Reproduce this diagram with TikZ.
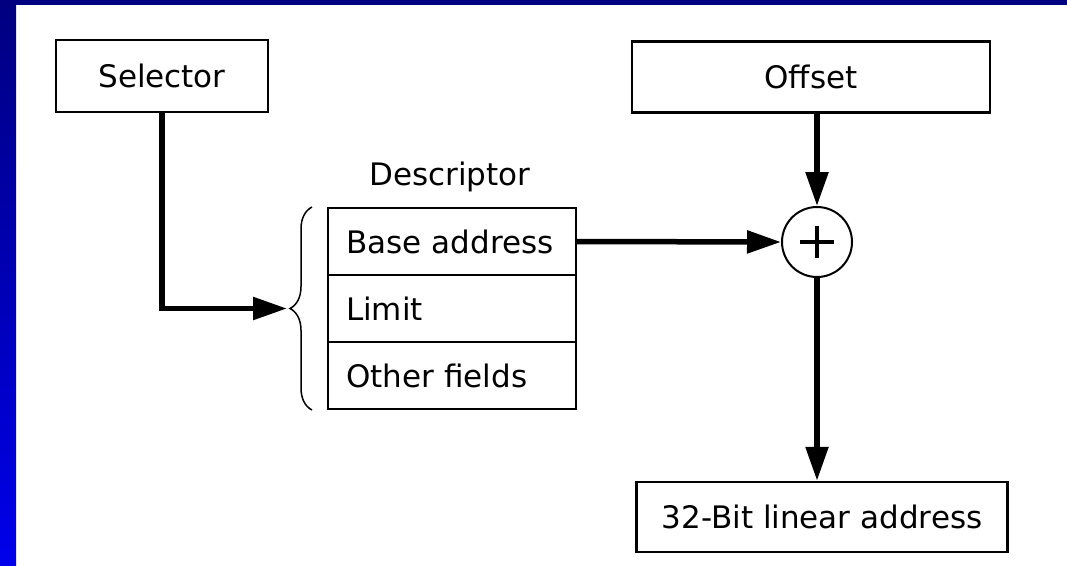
\documentclass[tikz,border=0pt]{standalone}
\usepackage{fontspec}
\setmainfont{DejaVu Sans}
\usetikzlibrary{arrows.meta, decorations.pathreplacing}
\definecolor{bandtop}{RGB}{0,0,128}
\definecolor{bandlow}{RGB}{0,0,235}
\begin{document}
\begin{tikzpicture}[x=1pt, y=-1pt, font=\fontsize{31}{36}\selectfont,
    box/.style={draw, line width=2.5pt, inner sep=0pt},
    field/.style={draw, line width=2pt, anchor=north west, minimum width=248pt,
        minimum height=67pt, inner xsep=18pt, text width=212pt, align=left},
    conn/.style={line width=5.5pt, -{Triangle[length=34pt, width=22pt]}}]
    \useasboundingbox (0, 0) rectangle (1067, 565);
    \fill[white] (0, 0) rectangle (1067, 565);
    \shade[top color=bandtop, bottom color=bandlow] (0, 0) rectangle (16, 565);
    \fill[bandtop] (0, 0) rectangle (1067, 5);

    \node[box, minimum width=212pt, minimum height=72pt] (selector) at (162, 76) {Selector};
    \node[box, minimum width=358pt, minimum height=71pt] (offset) at (811, 77) {Offset};
    \node[box, minimum width=371pt, minimum height=70pt] (linear) at (822, 517) {32-Bit linear address};

    \node (desclabel) at (450, 177) {Descriptor};
    \foreach \name/\txt [count=\i from 0] in {base/Base address, limit/Limit, other/Other fields} {
        \node[field] (\name) at (327, 207 + 67*\i) {\txt};
    }
    \draw[line width=1.5pt, decorate, decoration={brace, amplitude=22pt}]
        ([xshift=-15pt]other.south west) -- ([xshift=-15pt]base.north west);
    \coordinate (bracetip) at ([xshift=-40pt]limit.west);

    \node[draw, circle, line width=2pt, minimum size=70pt] (sum) at (817, 242) {};
    \draw[line width=4pt] ([xshift=-17pt]sum.center) -- ([xshift=17pt]sum.center);
    \draw[line width=4pt] ([yshift=-16pt]sum.center) -- ([yshift=16pt]sum.center);

    \draw[conn] (selector.south) |- (bracetip);
    \draw[conn] (base.east) -- (sum.west);
    \draw[conn] (sum.north |- offset.south) -- (sum.north);
    \draw[conn] (sum.south) -- (sum.south |- linear.north);
\end{tikzpicture}
\end{document}
